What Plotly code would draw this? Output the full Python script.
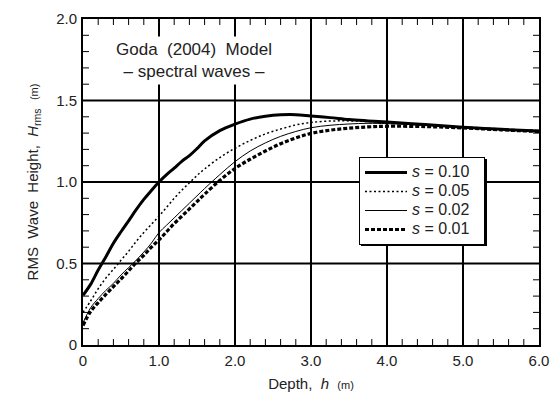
import plotly.graph_objects as go

# Depth grid (m) shared by all four curves
depth = [0.0, 0.1, 0.2, 0.3, 0.4, 0.5, 0.6, 0.7, 0.8, 0.9, 1.0, 1.1, 1.2, 1.3, 1.4,
         1.5, 1.6, 1.8, 2.0, 2.2, 2.4, 2.6, 2.8, 3.0, 3.25, 3.5, 3.75, 4.0, 4.5,
         5.0, 5.5, 6.0]

# RMS wave height (m) for each wave steepness s
h_s010 = [0.305, 0.372, 0.46, 0.54, 0.624, 0.695, 0.762, 0.83, 0.893, 0.948, 1.0,
          1.045, 1.085, 1.127, 1.162, 1.205, 1.252, 1.315, 1.355, 1.386, 1.403,
          1.412, 1.413, 1.405, 1.395, 1.383, 1.375, 1.368, 1.352, 1.336, 1.323, 1.313]
h_s005 = [0.20, 0.27, 0.345, 0.41, 0.464, 0.52, 0.575, 0.635, 0.69, 0.74, 0.79,
          0.845, 0.90, 0.95, 0.995, 1.04, 1.08, 1.15, 1.207, 1.255, 1.295, 1.325,
          1.35, 1.365, 1.374, 1.375, 1.371, 1.365, 1.35, 1.335, 1.322, 1.312]
h_s002 = [0.135, 0.228, 0.285, 0.335, 0.378, 0.43, 0.475, 0.52, 0.57, 0.625, 0.69,
          0.735, 0.78, 0.825, 0.87, 0.915, 0.96, 1.045, 1.125, 1.19, 1.24, 1.28,
          1.31, 1.333, 1.348, 1.356, 1.36, 1.358, 1.348, 1.335, 1.322, 1.312]
h_s001 = [0.12, 0.205, 0.26, 0.31, 0.358, 0.405, 0.455, 0.505, 0.55, 0.6, 0.645,
          0.695, 0.745, 0.79, 0.835, 0.88, 0.925, 1.01, 1.083, 1.14, 1.19, 1.235,
          1.27, 1.298, 1.318, 1.33, 1.338, 1.342, 1.34, 1.332, 1.32, 1.31]

series_names = ["<i>s</i> = 0.10", "<i>s</i> = 0.05", "<i>s</i> = 0.02", "<i>s</i> = 0.01"]
series_values = [h_s010, h_s005, h_s002, h_s001]
line_styles = [
    dict(color="black", width=3, dash="solid"),
    dict(color="black", width=1.5, dash="2px,2.5px"),
    dict(color="black", width=1, dash="solid"),
    dict(color="black", width=3.2, dash="4px,2px"),
]

# labelled (major) ticks
x_major = [0, 1, 2, 3, 4, 5, 6]
x_major_text = ["0", "1.0", "2.0", "3.0", "4.0", "5.0", "6.0"]
y_major = [0, 0.5, 1.0, 1.5, 2.0]
y_major_text = ["0", "0.5", "1.0", "1.5", "2.0"]

# minor tick marks: every 0.2 m in depth, every 0.1 m in height
x_minor = [i / 5 for i in range(1, 30) if i % 5]
y_minor = [i / 10 for i in range(1, 20) if i % 5]

X_RANGE = [0, 6]
Y_RANGE = [0, 2]
PLOT_W, PLOT_H = 456, 326          # plot area in pixels
TICK_LEN = 6                       # tick length in pixels
dx = TICK_LEN * (X_RANGE[1] - X_RANGE[0]) / PLOT_W
dy = TICK_LEN * (Y_RANGE[1] - Y_RANGE[0]) / PLOT_H

FONT = "Liberation Sans, Arial, sans-serif"
TEXT_COLOR = "#222"

fig = go.Figure()

# inward tick marks on all four sides, as one broken line
tick_x, tick_y = [], []
for v in x_minor:
    tick_x += [v, v, None, v, v, None]
    tick_y += [Y_RANGE[0], Y_RANGE[0] + dy, None, Y_RANGE[1], Y_RANGE[1] - dy, None]
for v in y_minor:
    tick_x += [X_RANGE[0], X_RANGE[0] + dx, None, X_RANGE[1], X_RANGE[1] - dx, None]
    tick_y += [v, v, None, v, v, None]
fig.add_trace(go.Scatter(
    x=tick_x, y=tick_y, mode="lines", line=dict(color="black", width=1),
    showlegend=False, hoverinfo="skip", connectgaps=False,
))

for name, vals, style in zip(series_names, series_values, line_styles):
    fig.add_trace(go.Scatter(
        x=depth, y=vals, mode="lines", line=style,
        name="<span style='font-size:16px'>" + name + "  </span>",
        line_shape="spline",
    ))

axis_common = dict(
    showline=True, linecolor="black", linewidth=2, mirror=True,
    showgrid=False, zeroline=False, ticks="",
    automargin=False, tickmode="array",
    tickfont=dict(family=FONT, size=15, color=TEXT_COLOR),
)

fig.update_xaxes(
    **axis_common,
    range=X_RANGE, tickvals=x_major, ticktext=x_major_text,
    ticklabelstandoff=1,
    title=dict(text="Depth,  <i>h</i>  <span style='font-size:11px'>(m)</span>",
               font=dict(family=FONT, size=15, color=TEXT_COLOR), standoff=10),
)
fig.update_yaxes(
    **axis_common,
    range=Y_RANGE, tickvals=y_major, ticktext=y_major_text,
    ticklabelstandoff=1,
    title=dict(text="RMS  Wave  Height,  <i>H</i><sub>rms</sub>  "
                    "<span style='font-size:11px'>(m)</span>",
               font=dict(family=FONT, size=15, color=TEXT_COLOR), standoff=14),
)

shapes = []
# heavy grid lines at the labelled ticks
for v in x_major[1:-1]:
    shapes.append(dict(type="line", xref="x", yref="paper", x0=v, x1=v, y0=0, y1=1,
                       line=dict(color="black", width=2), layer="below"))
for v in y_major[1:-1]:
    shapes.append(dict(type="line", xref="paper", yref="y", x0=0, x1=1, y0=v, y1=v,
                       line=dict(color="black", width=2), layer="below"))

# drop shadow behind the legend box
shapes.append(dict(
    type="rect", xref="paper", yref="paper",
    x0=(361 - 83) / 456, x1=(487 - 83) / 456,
    y0=(345 - 246) / 326, y1=(345 - 159) / 326,
    fillcolor="black", line=dict(width=0), layer="above",
))

fig.update_layout(
    width=555, height=401, autosize=False,
    margin=dict(l=83, r=555 - 83 - PLOT_W, t=19, b=401 - 19 - PLOT_H),
    paper_bgcolor="white", plot_bgcolor="white",
    font=dict(family=FONT, color=TEXT_COLOR),
    showlegend=True,
    legend=dict(
        x=(359 - 83) / 456, y=(345 - 157) / 326, xanchor="left", yanchor="top",
        bgcolor="white", bordercolor="black", borderwidth=1,
        font=dict(family=FONT, size=11, color=TEXT_COLOR),
        itemwidth=42, tracegroupgap=0,
    ),
    annotations=[dict(
        text="Goda  (2004)  Model<br>– spectral waves –",
        xref="paper", yref="paper", x=0.2445, y=0.8735,
        xanchor="center", yanchor="middle", showarrow=False,
        font=dict(family=FONT, size=17, color=TEXT_COLOR),
        bgcolor="white", borderpad=3,
    )],
    shapes=shapes,
)

fig.write_html("out.html", include_plotlyjs=True, config={"displayModeBar": False})
